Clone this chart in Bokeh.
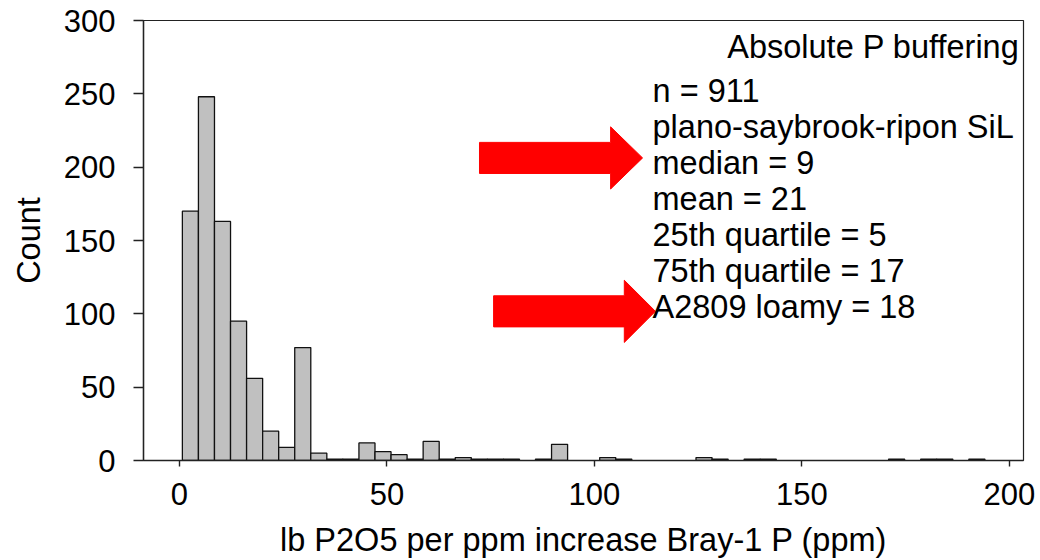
import numpy as np
from bokeh.plotting import figure
from bokeh.models import Range1d, Label, FixedTicker, ColumnDataSource
from bokeh.embed import file_html
from bokeh.resources import INLINE

# Histogram of absolute P buffering values (50 equal bins between min and max)
x_min = 0.7
x_max = 194.1
n_bins = 50
counts = [170, 248, 163, 95, 56, 20, 9, 77, 5, 1,
          1, 12, 6, 4, 1, 13, 1, 2, 1, 1,
          1, 0, 1, 11, 0, 0, 2, 1, 0, 0,
          0, 0, 2, 1, 0, 1, 1, 0, 0, 0,
          0, 0, 0, 0, 1, 0, 1, 1, 0, 1]

x_ticks = [0, 50, 100, 150, 200]
y_ticks = [0, 50, 100, 150, 200, 250, 300]

title_text = "Absolute P buffering"
stats_lines = ["n = 911",
               "plano-saybrook-ripon SiL",
               "median = 9",
               "mean = 21",
               "25th quartile = 5",
               "75th quartile = 17",
               "A2809 loamy = 18"]

FONT = "Liberation Sans"

edges = np.linspace(x_min, x_max, n_bins + 1)
keep = [i for i, c in enumerate(counts) if c > 0]
src = ColumnDataSource(dict(
    left=[edges[i] for i in keep],
    right=[edges[i + 1] for i in keep],
    top=[counts[i] for i in keep],
))

p = figure(width=1040, height=560, output_backend="svg", toolbar_location=None,
           x_range=Range1d(-8.67, 203.4), y_range=Range1d(0, 300),
           min_border_left=143, min_border_right=17,
           min_border_top=20, min_border_bottom=100,
           frame_width=880, frame_height=440)
p.background_fill_color = "white"
p.border_fill_color = "white"
p.outline_line_color = "#222222"
p.outline_line_width = 1.2
p.grid.visible = False

p.quad(left="left", right="right", bottom=0, top="top", source=src,
       fill_color="#c0c0c0", line_color="#111111", line_width=1.3)

for ax in (p.xaxis[0], p.yaxis[0]):
    ax.axis_line_color = "#222222"
    ax.axis_line_width = 1.4
    ax.major_tick_line_color = "#222222"
    ax.major_tick_line_width = 1.4
    ax.major_tick_in = 0
    ax.minor_tick_line_color = None
    ax.major_label_text_font = FONT
    ax.major_label_text_font_size = "31px"
    ax.major_label_text_color = "black"
    ax.axis_label_text_font = FONT
    ax.axis_label_text_font_size = "32.5px"
    ax.axis_label_text_font_style = "normal"
    ax.axis_label_text_color = "black"

p.xaxis.ticker = FixedTicker(ticks=x_ticks)
p.yaxis.ticker = FixedTicker(ticks=y_ticks)
p.xaxis.major_tick_out = 6
p.yaxis.major_tick_out = 10
p.xaxis.major_label_standoff = 16
p.yaxis.major_label_standoff = 18
p.xaxis.axis_label = "lb P2O5 per ppm increase Bray-1 P (ppm)"
p.yaxis.axis_label = "Count"
p.xaxis.axis_label_standoff = 14
p.yaxis.axis_label_standoff = 14

# Summary annotation
p.add_layout(Label(x=202.4, y=281.7, text=title_text, text_align="right",
                   text_baseline="alphabetic", text_font=FONT,
                   text_font_size="32.5px", text_color="black"))
line_y0 = 252.2
line_step = 24.6
for i, t in enumerate(stats_lines):
    p.add_layout(Label(x=114.0, y=line_y0 - i * line_step, text=t,
                       text_align="left", text_baseline="alphabetic",
                       text_font=FONT, text_font_size="32.5px",
                       text_color="black"))


def block_arrow(x_tail, x_base, x_tip, yc, shaft_half, head_half):
    xs = [x_tail, x_base, x_base, x_tip, x_base, x_base, x_tail]
    ys = [yc + shaft_half, yc + shaft_half, yc + head_half, yc,
          yc - head_half, yc - shaft_half, yc - shaft_half]
    return xs, ys


for (xt, xb, xp, yc) in [(72.3, 103.9, 111.6, 206.3), (75.7, 107.2, 114.7, 101.7)]:
    xs, ys = block_arrow(xt, xb, xp, yc, 10.6, 21.2)
    p.patch(xs, ys, fill_color="#ff0000", line_color="#ff0000", line_width=1)

open("out.html", "w").write(file_html(p, INLINE))
